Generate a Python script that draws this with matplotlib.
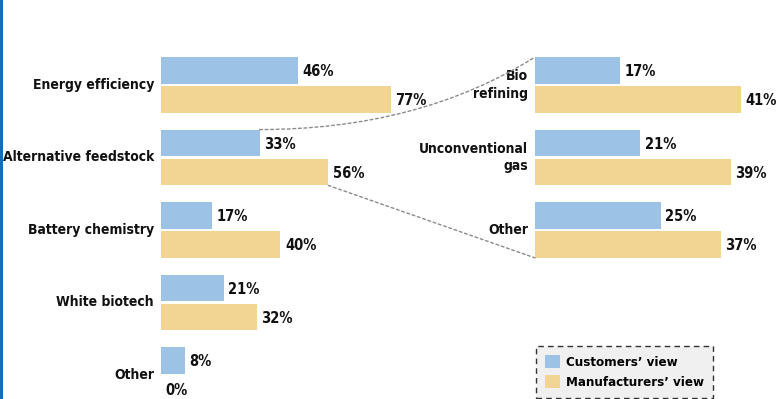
import matplotlib
matplotlib.use("Agg")
import matplotlib.pyplot as plt
from matplotlib.patches import ConnectionPatch, Patch, Rectangle
from matplotlib import font_manager as fm

# Data
left_categories = ["Energy efficiency", "Alternative feedstock", "Battery chemistry",
                   "White biotech", "Other"]
left_customers = [46, 33, 17, 21, 8]
left_manufacturers = [77, 56, 40, 32, 0]

right_categories = ["Bio\nrefining", "Unconventional\ngas", "Other"]
right_customers = [17, 21, 25]
right_manufacturers = [41, 39, 37]

series_names = ["Customers\u2019 view", "Manufacturers\u2019 view"]

BLUE = "#9cc2e5"
GOLD = "#f2d592"
TEXT = "#111111"

# Condensed bold face if one is available
names = {f.name for f in fm.fontManager.ttflist}
if "Liberation Sans Narrow" in names:
    FONT = dict(family="Liberation Sans Narrow", weight="bold")
else:
    FONT = dict(family="DejaVu Sans", weight="bold", stretch="condensed")

W, H = 776, 399
fig = plt.figure(figsize=(W / 100, H / 100), dpi=100)
fig.patch.set_facecolor("white")

bar_h = 0.37
off = 0.2
ylim = (4.331, -1.172)

def make_axes(x0_px, width_px, xmax):
    ax = fig.add_axes([x0_px / W, 0, width_px / W, 1])
    ax.set_xlim(0, xmax)
    ax.set_ylim(*ylim)
    ax.axis("off")
    return ax

axL = make_axes(161, 100 * 2.987, 100)
axR = make_axes(535, 45 * 5.02, 45)

def draw_panel(ax, cats, cust, manu):
    ys = list(range(len(cats)))
    ax.barh([y - off for y in ys], cust, height=bar_h, color=BLUE, linewidth=0)
    ax.barh([y + off for y in ys], manu, height=bar_h, color=GOLD, linewidth=0)
    for y, c, m, name in zip(ys, cust, manu, cats):
        ax.annotate(f"{c}%", (c, y - off), xytext=(3.2, -1), textcoords="offset points",
                    ha="left", va="center", fontsize=10.5, color=TEXT, **FONT)
        ax.annotate(f"{m}%", (m, y + off), xytext=(3.2, -1), textcoords="offset points",
                    ha="left", va="center", fontsize=10.5, color=TEXT, **FONT)
        ax.annotate(name, (0, y), xytext=(-5, 0), textcoords="offset points",
                    ha="right", va="center", multialignment="right",
                    fontsize=10, color=TEXT, linespacing=1.35, **FONT)

draw_panel(axL, left_categories, left_customers, left_manufacturers)
draw_panel(axR, right_categories, right_customers, right_manufacturers)

# Dotted connectors from "Alternative feedstock" to the breakdown panel
top_y = 1 - off - bar_h / 2
bot_y = 1 + off + bar_h / 2
con1 = ConnectionPatch(xyA=(left_customers[1], top_y), coordsA=axL.transData,
                       xyB=(0, 0 - off - bar_h / 2), coordsB=axR.transData,
                       connectionstyle="angle3,angleA=0,angleB=32",
                       color="#8a8a8a", lw=1.0, linestyle=(0, (2, 2)))
con2 = ConnectionPatch(xyA=(left_manufacturers[1], bot_y), coordsA=axL.transData,
                       xyB=(0, 2 + off + bar_h / 2), coordsB=axR.transData,
                       color="#8a8a8a", lw=1.0, linestyle=(0, (2, 2)))
fig.add_artist(con1)
fig.add_artist(con2)

# Left edge rule
fig.add_artist(Rectangle((0, 0), 3 / W, 1, transform=fig.transFigure,
                         color="#1b6cb1", lw=0))

# Legend
handles = [Patch(facecolor=BLUE, edgecolor="none"), Patch(facecolor=GOLD, edgecolor="none")]
leg = fig.legend(handles, series_names, loc="upper left",
                 bbox_to_anchor=(536 / W, 1 - 346 / H), borderaxespad=0,
                 handlelength=1.1, handleheight=1.1, handletextpad=0.45,
                 labelspacing=0.45, borderpad=0.7, fancybox=False,
                 prop=dict(size=9.5, **FONT))
frame = leg.get_frame()
frame.set_facecolor("#f0f0f0")
frame.set_edgecolor("#333333")
frame.set_linestyle((0, (4, 3)))
frame.set_linewidth(1.0)
frame.set_alpha(1)

fig.savefig("out.png", dpi=100)
